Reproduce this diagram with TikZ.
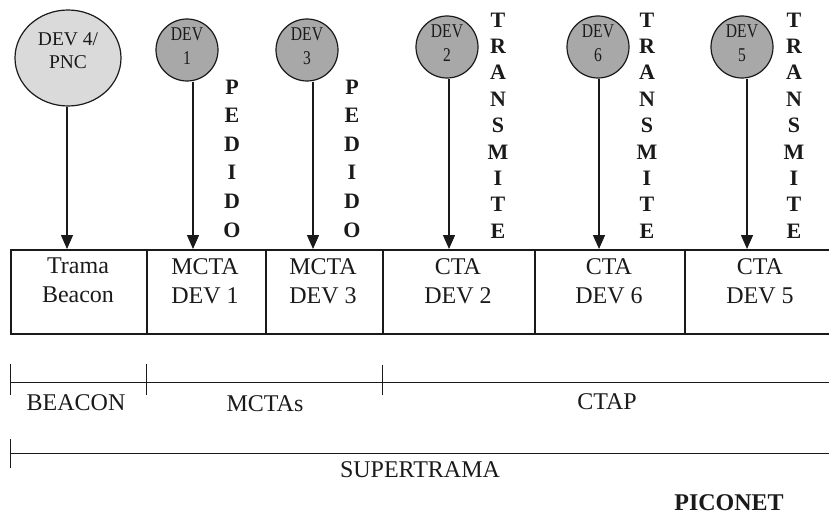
\documentclass[tikz,border=0pt]{standalone}
\usepackage{fontspec}
\setmainfont{Liberation Serif}
\newfontfamily\narrowserif[FakeStretch=0.8]{Liberation Serif}
\usetikzlibrary{arrows.meta,shapes.geometric}
\definecolor{devfill}{HTML}{A8A8A8}
\definecolor{pncfill}{HTML}{DADADA}
\definecolor{ink}{HTML}{1A1A1A}
\begin{document}
\begin{tikzpicture}[x=1pt,y=-1pt,
  devtext/.style={align=center,font=\narrowserif\fontsize{19.5}{24}\selectfont,text=ink,inner sep=0pt},
  pnctext/.style={align=center,font=\fontsize{19.5}{23}\selectfont,text=ink,inner sep=0pt},
  dev/.style={circle,draw=ink,line width=1.2pt,fill=devfill,minimum size=62pt,inner sep=0pt,
    label={[devtext,yshift=4pt]center:#1}},
  pnc/.style={ellipse,draw=ink,line width=1.2pt,fill=pncfill,minimum width=106pt,minimum height=96pt,inner sep=0pt,
    label={[pnctext,yshift=7pt]center:#1}},
  cell/.style={draw=ink,line width=1.6pt,minimum height=84pt,anchor=north west,inner sep=0pt},
  celltext/.style={anchor=north,align=center,font=\fontsize{24}{29}\selectfont,inner sep=0pt,text=ink},
  vword/.style={align=center,font=\bfseries\fontsize{22}{28.6}\selectfont,inner sep=0pt,text=ink},
  vwordt/.style={vword,font=\bfseries\fontsize{22}{26.4}\selectfont},
  arr/.style={draw=ink,-{Triangle[length=14pt,width=12pt]},line width=1.4pt},
  dim/.style={draw=ink,line width=1pt},
  lbl/.style={font=\fontsize{24}{29}\selectfont,inner sep=0pt,text=ink}
]
\clip (0,0) rectangle (829,516);

% frame cells of the superframe
\node[cell,minimum width=136pt] (c1) at (10,249) {};
\node[cell,minimum width=119pt] (c2) at (146,249) {};
\node[cell,minimum width=117pt] (c3) at (265,249) {};
\node[cell,minimum width=152pt] (c4) at (382,249) {};
\node[cell,minimum width=150pt] (c5) at (534,249) {};
\node[cell,minimum width=152pt] (c6) at (684,249) {};

\node[celltext] (t1) at (78,258) {Trama\\Beacon};
\node[celltext] (t2) at (205,258) {MCTA\\DEV 1};
\node[celltext] (t3) at (323,258) {MCTA\\DEV 3};
\node[celltext] (t4) at (458,258) {CTA\\DEV 2};
\node[celltext] (t5) at (609,258) {CTA\\DEV 6};
\node[celltext] (t6) at (760,258) {CTA\\DEV 5};

% devices
\node[pnc={DEV 4/\\PNC}] (pnc) at (68,58) {};
\node[dev={DEV\\1}] (d1) at (187,50) {};
\node[dev={DEV\\3}] (d3) at (307,50) {};
\node[dev={DEV\\2}] (d2) at (447,47) {};
\node[dev={DEV\\6}] (d6) at (598,47) {};
\node[dev={DEV\\5}] (d5) at (742,47) {};

% arrow tips on the top edge of the frame
\coordinate (a0) at (67,249);
\coordinate (a1) at (193,249);
\coordinate (a3) at (313,249);
\coordinate (a2) at (449,249);
\coordinate (a6) at (599,249);
\coordinate (a5) at (747,249);

\draw[arr] (a0 |- pnc.south) -- (a0);
\draw[arr] (a1 |- d1.south) -- (a1);
\draw[arr] (a3 |- d3.south) -- (a3);
\draw[arr] (a2 |- d2.south) -- (a2);
\draw[arr] (a6 |- d6.south) -- (a6);
\draw[arr] (a5 |- d5.south) -- (a5);

% vertical words
\node[vword] (p1) at (232,158.5) {P\\E\\D\\I\\D\\O};
\node[vword] (p3) at (352,158.5) {P\\E\\D\\I\\D\\O};
\node[vwordt] (x2) at (498,125.5) {T\\R\\A\\N\\S\\M\\I\\T\\E};
\node[vwordt] (x6) at (647,125.5) {T\\R\\A\\N\\S\\M\\I\\T\\E};
\node[vwordt] (x5) at (794,125.5) {T\\R\\A\\N\\S\\M\\I\\T\\E};

% period scale
\coordinate (b0) at (10,382);
\coordinate (b1) at (146,382);
\coordinate (b2) at (382,382);
\coordinate (be) at (835,382);
\draw[dim] (b0) -- (be);
\draw[dim] ([yshift=18pt]b0) -- ([yshift=-13pt]b0);
\draw[dim] ([yshift=18pt]b1) -- ([yshift=-13pt]b1);
\draw[dim] ([yshift=17pt]b2) -- ([yshift=-13pt]b2);

\node[lbl] (lbeacon) at (76,403) {BEACON};
\node[lbl] (lmcta) at (265,404) {MCTAs};
\node[lbl] (lctap) at (607,402) {CTAP};

\coordinate (s0) at (10,453);
\coordinate (se) at (835,453);
\draw[dim] (s0) -- (se);
\draw[dim] ([yshift=14pt]s0) -- ([yshift=-15pt]s0);
\node[lbl] (lsuper) at (420,470) {SUPERTRAMA};

\node[lbl,font=\bfseries\fontsize{24}{29}\selectfont] (lpico) at (729,503) {PICONET};
\end{tikzpicture}
\end{document}
